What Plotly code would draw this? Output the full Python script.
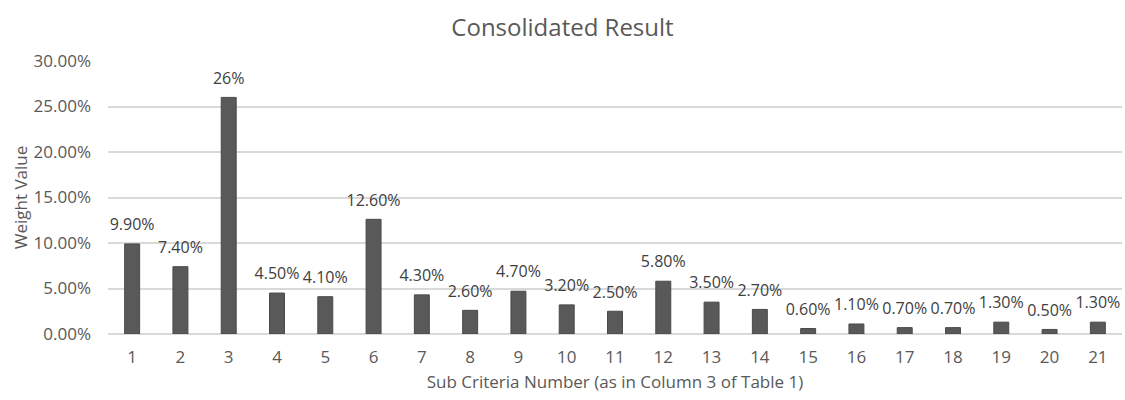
import plotly.graph_objects as go

# Sub criteria numbers and their consolidated weights
criteria = [str(i) for i in range(1, 22)]
weights = [0.099, 0.074, 0.26, 0.045, 0.041, 0.126, 0.043, 0.026, 0.047, 0.032, 0.025,
           0.058, 0.035, 0.027, 0.006, 0.011, 0.007, 0.007, 0.013, 0.005, 0.013]
value_labels = ["9.90%", "7.40%", "26%", "4.50%", "4.10%", "12.60%", "4.30%", "2.60%",
                "4.70%", "3.20%", "2.50%", "5.80%", "3.50%", "2.70%", "0.60%", "1.10%",
                "0.70%", "0.70%", "1.30%", "0.50%", "1.30%"]

text_color = "#595959"
font_family = "Open Sans"

fig = go.Figure()

fig.add_trace(
    go.Bar(
        x=criteria,
        y=weights,
        marker=dict(color="#595959", line=dict(color="#4a4a4a", width=1)),
        width=0.31,
        hoverinfo="x+y",
    )
)

# Value labels sit above each bar; an invisible marker pads them off the bar top
fig.add_trace(
    go.Scatter(
        x=criteria,
        y=weights,
        mode="markers+text",
        text=value_labels,
        textposition="top center",
        textfont=dict(size=16, color="#404040", family=font_family),
        marker=dict(size=14, opacity=0),
        cliponaxis=False,
        hoverinfo="skip",
    )
)

fig.update_layout(
    width=1125,
    height=400,
    margin=dict(l=108, r=3, t=61, b=66),
    paper_bgcolor="white",
    plot_bgcolor="white",
    showlegend=False,
    font=dict(family=font_family, color=text_color),
    title=dict(
        text="Consolidated Result",
        x=0.5,
        xanchor="center",
        y=0.93,
        yanchor="middle",
        font=dict(size=24, color=text_color, family=font_family),
    ),
)

fig.update_xaxes(
    range=[-0.5, 20.5],
    title=dict(text="Sub Criteria Number (as in Column 3 of Table 1)",
               font=dict(size=17, color=text_color), standoff=9),
    tickfont=dict(size=17, color=text_color),
    showgrid=False,
    showline=False,
    ticks="",
    ticklabelstandoff=11,
)

fig.update_yaxes(
    range=[0, 0.30],
    dtick=0.05,
    tickformat=".2%",
    tickfont=dict(size=17, color=text_color),
    title=dict(text="Weight Value", font=dict(size=17, color=text_color), standoff=1),
    showgrid=True,
    gridcolor="#d9d9d9",
    gridwidth=1.5,
    zeroline=True,
    zerolinecolor="#d9d9d9",
    zerolinewidth=1.5,
    ticks="",
    ticklabelstandoff=16,
)

fig.write_html("out.html")
